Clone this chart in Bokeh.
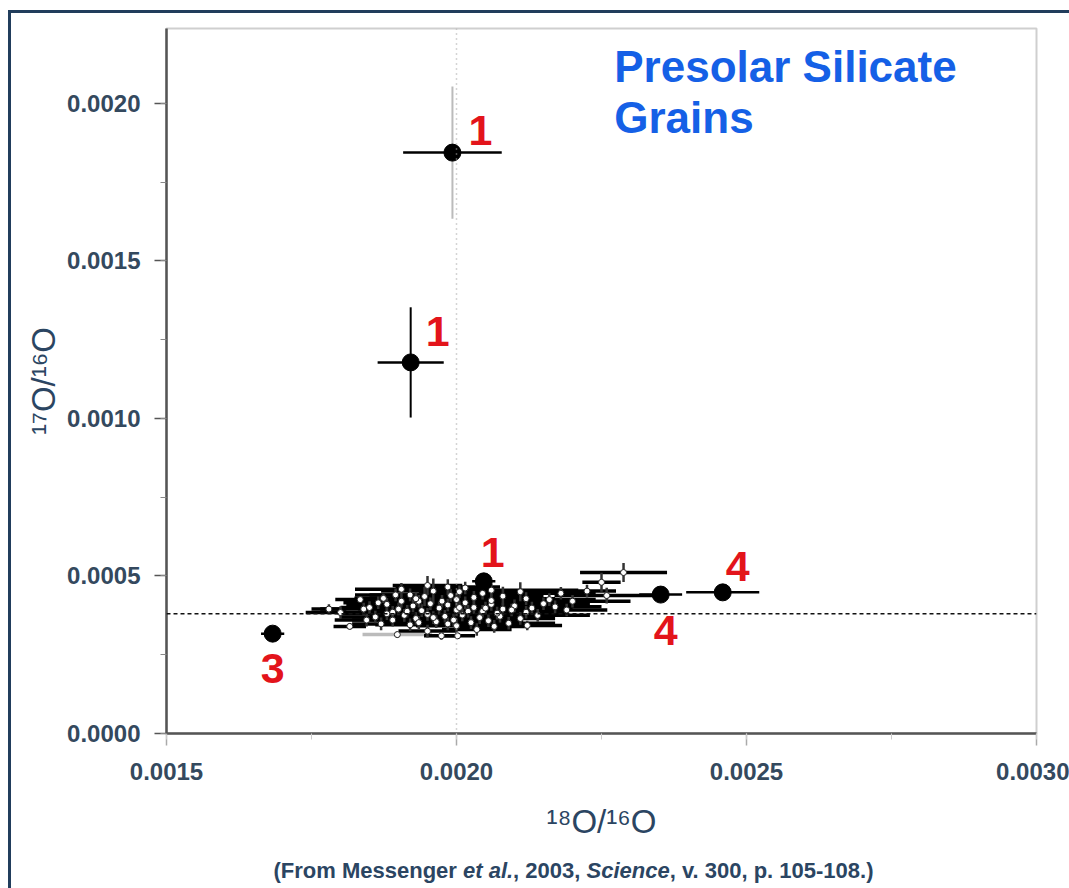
from bokeh.plotting import figure
from bokeh.layouts import column
from bokeh.models import Range1d, SingleIntervalTicker, NumeralTickFormatter, Span, ColumnDataSource
from bokeh.embed import file_html
from bokeh.resources import INLINE
from bokeh.core.properties import value

# ---------------- data ----------------
# highlighted grains (big black dots) with 1-sigma errors
big_x = [0.001993, 0.001921, 0.002047, 0.001683, 0.002352, 0.002459]
big_y = [0.001844, 0.001178, 0.000483, 0.000317, 0.000441, 0.000448]
big_xerr = [0.000085, 0.000057, 0.000020, 0.000020, 0.000037, 0.000063]
big_yerr = [0.000210, 0.000175, 0.000015, 0.000005, 0.000008, 0.000008]
big_group = ["1", "1", "1", "3", "4", "4"]

# normal grains (small open circles)
g_x = [0.001834, 0.001874, 0.001800, 0.001816, 0.001898, 0.001974, 0.002002, 0.002288,
       0.002250, 0.002259, 0.002122, 0.001950, 0.001985, 0.002015, 0.001905, 0.002060,
       0.002110, 0.001960, 0.001920, 0.001945, 0.001990, 0.002030, 0.002080, 0.002120,
       0.002160, 0.002200, 0.001850, 0.001880, 0.001900, 0.001925, 0.001940, 0.001955,
       0.001970, 0.001985, 0.002000, 0.002015, 0.002030, 0.002045, 0.002060, 0.002080,
       0.002100, 0.002130, 0.002170, 0.001860, 0.001890, 0.001910, 0.001930, 0.001950,
       0.001965, 0.001980, 0.001995, 0.002010, 0.002025, 0.002040, 0.002055, 0.002075,
       0.002090, 0.002110, 0.002140, 0.001920, 0.001870, 0.002000, 0.001950, 0.002035,
       0.001780, 0.002180, 0.002225, 0.001935, 0.002000, 0.002060, 0.001890, 0.002120,
       0.001840, 0.001865, 0.001845, 0.001880, 0.001905, 0.001915, 0.001960, 0.001975,
       0.002005, 0.002020, 0.002050, 0.002070, 0.002095, 0.002150, 0.002190, 0.001935,
       0.001985, 0.002065, 0.001895, 0.002045, 0.002005, 0.001930]
g_y = [0.000425, 0.000429, 0.000384, 0.000340, 0.000314, 0.000310, 0.000310, 0.000511,
       0.000480, 0.000438, 0.000343, 0.000470, 0.000465, 0.000462, 0.000458, 0.000455,
       0.000450, 0.000452, 0.000440, 0.000435, 0.000438, 0.000432, 0.000436, 0.000428,
       0.000425, 0.000420, 0.000400, 0.000410, 0.000395, 0.000405, 0.000390, 0.000412,
       0.000398, 0.000408, 0.000392, 0.000415, 0.000400, 0.000388, 0.000410, 0.000395,
       0.000405, 0.000398, 0.000402, 0.000370, 0.000360, 0.000375, 0.000365, 0.000378,
       0.000355, 0.000372, 0.000360, 0.000376, 0.000352, 0.000368, 0.000358, 0.000372,
       0.000350, 0.000365, 0.000375, 0.000345, 0.000348, 0.000342, 0.000325, 0.000330,
       0.000395, 0.000445, 0.000452, 0.000420, 0.000425, 0.000422, 0.000385, 0.000385,
       0.000395, 0.000415, 0.000360, 0.000380, 0.000420, 0.000388, 0.000368, 0.000420,
       0.000400, 0.000388, 0.000398, 0.000382, 0.000392, 0.000412, 0.000392, 0.000352,
       0.000348, 0.000340, 0.000440, 0.000445, 0.000450, 0.000428]
g_xerr = [0.000043, 0.000050, 0.000060, 0.000028, 0.000060, 0.000030, 0.000030, 0.000075,
          0.000033, 0.000090, 0.000060, 0.000060, 0.000090, 0.000050, 0.000080, 0.000150,
          0.000040, 0.000090, 0.000070, 0.000060, 0.000080, 0.000060, 0.000070, 0.000050,
          0.000080, 0.000100, 0.000050, 0.000070, 0.000060, 0.000080, 0.000060, 0.000070,
          0.000090, 0.000060, 0.000070, 0.000060, 0.000080, 0.000060, 0.000070, 0.000060,
          0.000080, 0.000070, 0.000080, 0.000060, 0.000070, 0.000060, 0.000080, 0.000060,
          0.000070, 0.000060, 0.000080, 0.000060, 0.000070, 0.000080, 0.000060, 0.000070,
          0.000080, 0.000060, 0.000090, 0.000060, 0.000050, 0.000070, 0.000050, 0.000060,
          0.000030, 0.000060, 0.000050, 0.000070, 0.000060, 0.000080, 0.000060, 0.000070,
          0.000075, 0.000060, 0.000055, 0.000080, 0.000060, 0.000070, 0.000080, 0.000070,
          0.000080, 0.000070, 0.000080, 0.000070, 0.000090, 0.000080, 0.000070, 0.000060,
          0.000070, 0.000060, 0.000070, 0.000080, 0.000070, 0.000060]
g_yerr = [0.000010, 0.000015, 0.000020, 0.000010, 0.000010, 0.000012, 0.000010, 0.000030,
          0.000030, 0.000025, 0.000015, 0.000030, 0.000025, 0.000020, 0.000020, 0.000020,
          0.000030, 0.000040, 0.000020, 0.000030, 0.000020, 0.000020, 0.000030, 0.000020,
          0.000020, 0.000020, 0.000020, 0.000020, 0.000020, 0.000020, 0.000020, 0.000020,
          0.000020, 0.000020, 0.000020, 0.000020, 0.000020, 0.000020, 0.000020, 0.000020,
          0.000020, 0.000020, 0.000020, 0.000020, 0.000020, 0.000020, 0.000020, 0.000020,
          0.000020, 0.000020, 0.000020, 0.000020, 0.000020, 0.000020, 0.000020, 0.000020,
          0.000020, 0.000020, 0.000020, 0.000020, 0.000020, 0.000020, 0.000020, 0.000020,
          0.000015, 0.000020, 0.000020, 0.000020, 0.000020, 0.000020, 0.000020, 0.000020,
          0.000020, 0.000020, 0.000020, 0.000020, 0.000020, 0.000020, 0.000020, 0.000020,
          0.000020, 0.000020, 0.000020, 0.000020, 0.000020, 0.000020, 0.000020, 0.000020,
          0.000020, 0.000020, 0.000020, 0.000020, 0.000020, 0.000020]

solar_17_16 = 0.00038
solar_18_16 = 0.0020

x_ticks_interval = 0.0005
y_ticks_interval = 0.0005

# ---------------- figure ----------------
W_FIG = 1058
B_LEFT, B_RIGHT = 155, 33
p = figure(width=W_FIG, height=840, output_backend="svg", toolbar_location=None,
           x_range=Range1d(0.0015, 0.0030), y_range=Range1d(0.0, 0.002238),
           min_border_left=B_LEFT, min_border_right=B_RIGHT, min_border_top=15, min_border_bottom=120,
           background_fill_color="white", border_fill_color="white")
p.grid.visible = False
p.outline_line_color = "#cfcfcf"
p.outline_line_width = 2

FONT = "Liberation Sans"
AX_COL = "#2b4562"

for ax, interval in ((p.xaxis[0], x_ticks_interval), (p.yaxis[0], y_ticks_interval)):
    ax.ticker = SingleIntervalTicker(interval=interval, num_minor_ticks=2)
    ax.formatter = NumeralTickFormatter(format="0.0000")
    ax.major_label_text_font = FONT
    ax.major_label_text_font_style = "bold"
    ax.major_label_text_font_size = "24px"
    ax.major_label_text_color = "#34495e"
    ax.axis_label_text_font = FONT
    ax.axis_label_text_font_style = "normal"
    ax.axis_label_text_font_size = "33px"
    ax.axis_label_text_color = AX_COL
    ax.axis_line_color = "#555555"
    ax.axis_line_width = 2.5
    ax.major_tick_in = 0
    ax.minor_tick_in = 0
    ax.major_tick_line_width = 1.5
    ax.minor_tick_line_width = 1

p.xaxis.axis_label = "¹⁸O/¹⁶O"
p.yaxis.axis_label = "¹⁷O/¹⁶O"
p.xaxis.major_tick_out = 12
p.xaxis.minor_tick_out = 6
p.xaxis.major_tick_line_color = "#aaaaaa"
p.xaxis.minor_tick_line_color = "#cccccc"
p.xaxis.major_label_standoff = 17
p.xaxis.axis_label_standoff = 20
p.yaxis.major_tick_out = 12
p.yaxis.minor_tick_out = 6
p.yaxis.major_tick_line_color = "#555555"
p.yaxis.minor_tick_line_color = "#888888"
p.yaxis.major_label_standoff = 14
p.yaxis.axis_label_standoff = 2

# reference lines (solar values)
p.add_layout(Span(location=solar_18_16, dimension="height", line_color="#aaaaaa",
                  line_dash="1 4", line_width=1.5))
p.add_layout(Span(location=solar_17_16, dimension="width", line_color="#111111",
                  line_dash="4 3", line_width=1.5))

# normal grains: error bars then open circles
gsrc = ColumnDataSource(dict(
    x=g_x, y=g_y,
    x0=[a - e for a, e in zip(g_x, g_xerr)], x1=[a + e for a, e in zip(g_x, g_xerr)],
    y0=[a - e for a, e in zip(g_y, g_yerr)], y1=[a + e for a, e in zip(g_y, g_yerr)],
    hc=["#bbbbbb" if (abs(a - 0.001898) < 1e-9) else "black" for a in g_x],
))
p.segment(x0="x0", y0="y", x1="x1", y1="y", source=gsrc, line_color="hc", line_width=3.5)
p.segment(x0="x", y0="y0", x1="x", y1="y1", source=gsrc, line_color="#333333", line_width=2.5)
p.scatter(x="x", y="y", source=gsrc, size=6, fill_color="white", line_color="#222222", line_width=1)

# highlighted grains
bsrc = ColumnDataSource(dict(
    x=big_x, y=big_y,
    x0=[a - e for a, e in zip(big_x, big_xerr)], x1=[a + e for a, e in zip(big_x, big_xerr)],
    y0=[a - e for a, e in zip(big_y, big_yerr)], y1=[a + e for a, e in zip(big_y, big_yerr)],
    vc=["#bbbbbb", "black", "black", "black", "black", "black"],
))
p.segment(x0="x", y0="y0", x1="x", y1="y1", source=bsrc, line_color="vc", line_width=2)
p.segment(x0="x0", y0="y", x1="x1", y1="y", source=bsrc, line_color="black", line_width=2.5)
p.scatter(x="x", y="y", source=bsrc, size=17, fill_color="black", line_color="black")

# group labels (pixel offsets from each grain)
lab_dx = [28, 27, 9, 0, 5, 15]
lab_dy = [-22, -31, -29, 35, 36, -26]
lsrc = ColumnDataSource(dict(x=big_x, y=big_y, t=big_group, dx=lab_dx, dy=lab_dy))
p.text(x="x", y="y", text="t", source=lsrc, x_offset="dx", y_offset="dy",
       text_font=value(FONT), text_font_style="bold", text_font_size="43px",
       text_color="#e3141b", text_align="center", text_baseline="middle")

# title inside the plot
p.text(x=[0.002272, 0.002272], y=[0.002117, 0.001956], text=["Presolar Silicate", "Grains"],
       text_font=value(FONT), text_font_style="bold", text_font_size="44px",
       text_color="#1560e6", text_align="left", text_baseline="middle")

# ---------------- caption strip (mixed italics) ----------------
CAP_H = 35
FRAME_W = W_FIG - B_LEFT - B_RIGHT
cap = figure(width=W_FIG, height=CAP_H, output_backend="svg", toolbar_location=None,
             x_range=Range1d(0, FRAME_W), y_range=Range1d(0, CAP_H),
             min_border_left=B_LEFT, min_border_right=B_RIGHT, min_border_top=0, min_border_bottom=0,
             background_fill_color="white", border_fill_color="white")
cap.axis.visible = False
cap.grid.visible = False
cap.outline_line_color = None

W = {' ': 278, '(': 333, ')': 333, 'F': 611, 'r': 389, 'o': 611, 'm': 889, 'M': 833, 'e': 556,
     's': 556, 'n': 611, 'g': 611, 't': 333, 'a': 556, 'l': 278, '.': 278, ',': 278, 'S': 667,
     'c': 556, 'i': 278, 'v': 556, 'p': 611, '-': 333}
def width(s, size):
    return sum(W.get(ch, 556) for ch in s) * size / 1000.0

cap_size = 22
pieces = [("(From Messenger ", "bold"), ("et al.", "bold italic"), (", 2003, ", "bold"),
          ("Science", "bold italic"), (", v. 300, p. 105-108.)", "bold")]
xpos = 273.0 - 11 - B_LEFT   # caption start, in frame pixels
for txt, style in pieces:
    cap.text(x=[xpos], y=[CAP_H - 17], text=[txt], text_font=value(FONT),
             text_font_style=style, text_font_size=f"{cap_size}px", text_color=AX_COL,
             text_align="left", text_baseline="middle")
    xpos += width(txt, cap_size)

layout = column(p, cap, spacing=0,
                styles={"margin-left": "8px", "margin-top": "10px",
                        "border-left": "3px solid #213d5c", "border-top": "3px solid #213d5c"})

open("out.html", "w").write(file_html(layout, INLINE))
